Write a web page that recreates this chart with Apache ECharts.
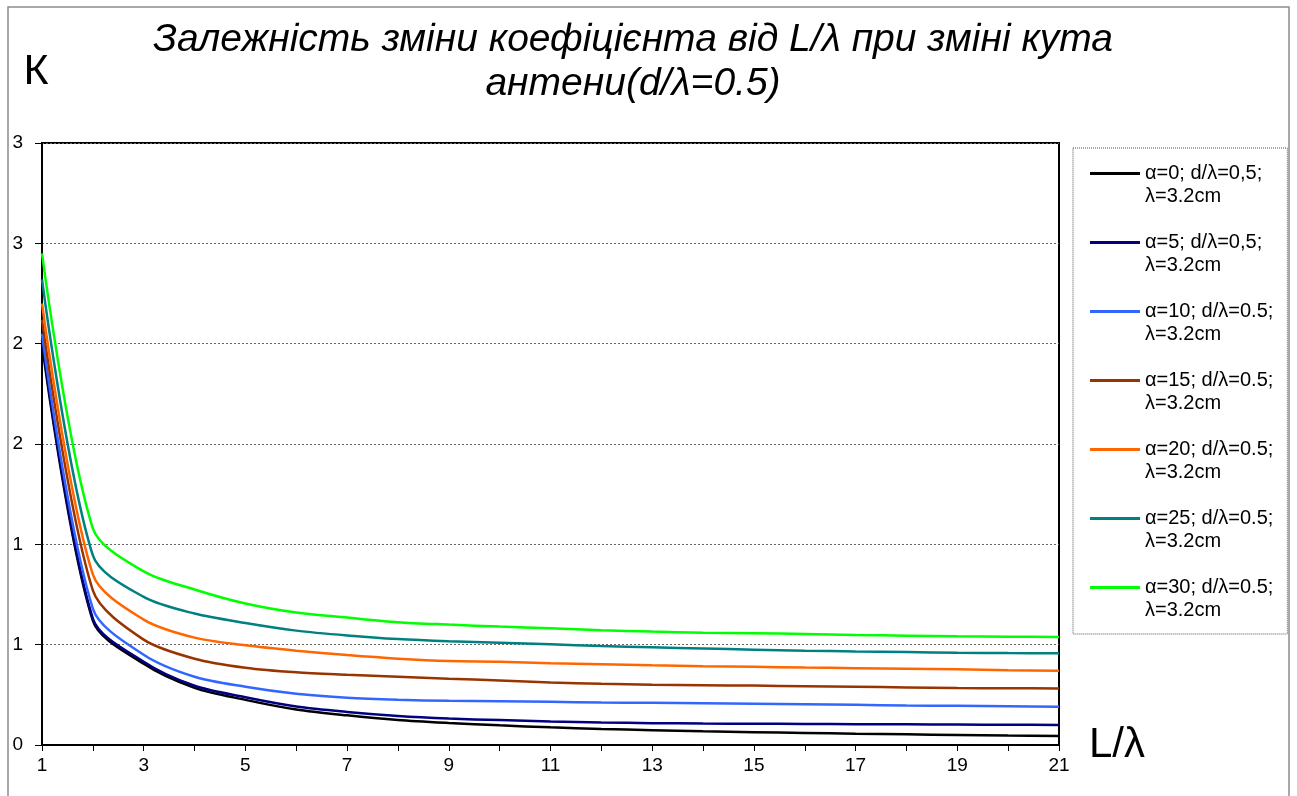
<!DOCTYPE html>
<html>
<head>
<meta charset="utf-8">
<script src="https://cdn.jsdelivr.net/npm/echarts@6/dist/echarts.min.js"></script>
<style>
html,body{margin:0;padding:0;background:#fff;}
#c{width:1297px;height:796px;}
</style>
</head>
<body>
<div id="c"></div>
<script>
const categories = ['1','2','3','4','5','6','7','8','9','10','11','12','13','14','15','16','17','18','19','20','21'];
const yTicks = [0, 0.5, 1, 1.5, 2, 2.5, 3];

const names = [
  'α=0; d/λ=0,5; λ=3.2cm',
  'α=5; d/λ=0,5; λ=3.2cm',
  'α=10; d/λ=0.5; λ=3.2cm',
  'α=15; d/λ=0.5; λ=3.2cm',
  'α=20; d/λ=0.5; λ=3.2cm',
  'α=25; d/λ=0.5; λ=3.2cm',
  'α=30; d/λ=0.5; λ=3.2cm'
];
const colors = ['#000000', '#000080', '#3366FF', '#993300', '#FF6600', '#008080', '#00FF00'];

const a0  = [2.00, 0.62, 0.405, 0.285, 0.225, 0.177, 0.148, 0.125, 0.110, 0.098, 0.088, 0.080, 0.074, 0.068, 0.064, 0.060, 0.056, 0.053, 0.050, 0.047, 0.045];
const a5  = [2.02, 0.63, 0.415, 0.295, 0.238, 0.192, 0.165, 0.145, 0.132, 0.124, 0.117, 0.112, 0.109, 0.107, 0.106, 0.105, 0.104, 0.103, 0.102, 0.101, 0.100];
const a10 = [2.05, 0.68, 0.450, 0.340, 0.290, 0.255, 0.235, 0.225, 0.220, 0.218, 0.215, 0.212, 0.210, 0.208, 0.206, 0.203, 0.200, 0.197, 0.195, 0.193, 0.191];
const a15 = [2.12, 0.77, 0.525, 0.430, 0.385, 0.362, 0.350, 0.340, 0.330, 0.322, 0.312, 0.305, 0.300, 0.298, 0.296, 0.293, 0.290, 0.287, 0.284, 0.283, 0.282];
const a20 = [2.20, 0.85, 0.625, 0.535, 0.497, 0.470, 0.448, 0.430, 0.418, 0.415, 0.408, 0.402, 0.397, 0.393, 0.390, 0.386, 0.383, 0.380, 0.377, 0.373, 0.370];
const a25 = [2.32, 0.945, 0.738, 0.655, 0.608, 0.570, 0.546, 0.528, 0.517, 0.510, 0.502, 0.493, 0.487, 0.481, 0.475, 0.470, 0.466, 0.463, 0.460, 0.458, 0.457];
const a30 = [2.45, 1.08, 0.865, 0.775, 0.705, 0.660, 0.635, 0.612, 0.600, 0.590, 0.582, 0.572, 0.565, 0.560, 0.557, 0.553, 0.548, 0.545, 0.542, 0.540, 0.538];

const seriesData = [a0, a5, a10, a15, a20, a25, a30];
const FONT = '"Liberation Sans", Arial, sans-serif';

const chart = echarts.init(document.getElementById('c'));
chart.setOption({
  animation: false,
  backgroundColor: '#fff',
  textStyle: { fontFamily: FONT },
  title: {
    text: 'Залежність зміни коефіцієнта від L/λ при зміні кута\nантени(d/λ=0.5)',
    left: 633,
    textAlign: 'center',
    top: 18,
    padding: 0,
    textStyle: { fontFamily: FONT, fontStyle: 'italic', fontWeight: 'normal', fontSize: 39, lineHeight: 44, color: '#000' }
  },
  graphic: [{
    type: 'rect', silent: true, z: -10,
    shape: { x: 8, y: 7, width: 1281, height: 800 },
    style: { fill: 'none', stroke: '#8c8c8c', lineWidth: 1.5 }
  }],
  grid: { left: 42, top: 143, right: 238, bottom: 51, show: true, borderColor: '#000', borderWidth: 2, backgroundColor: 'transparent' },
  legend: {
    orient: 'vertical',
    left: 1073,
    top: 148,
    padding: [14, 14, 12, 17],
    itemWidth: 50,
    itemHeight: 46,
    itemGap: 23,
    borderColor: '#555',
    borderWidth: 1,
    borderType: 'dotted',
    icon: 'path://M0,0h0.01v0.01h-0.01z M0,10h50v3h-50z M0,46h0.01v0.01h-0.01z',
    formatter: function (n) { return n.replace('; λ', ';\nλ'); },
    textStyle: { fontFamily: FONT, fontSize: 20, lineHeight: 23, color: '#000' },
    data: names
  },
  xAxis: {
    type: 'category',
    data: categories,
    boundaryGap: false,
    name: 'L/λ',
    nameLocation: 'end',
    nameGap: 30,
    nameTextStyle: { fontFamily: FONT, fontSize: 42, color: '#000', verticalAlign: 'middle', padding: [0, 0, 10, 0] },
    axisLine: { lineStyle: { color: '#000', width: 2 } },
    axisTick: { show: true, interval: 0, length: 6, lineStyle: { color: '#000', width: 1 } },
    axisLabel: { interval: 1, fontFamily: FONT, fontSize: 19, color: '#000', margin: 11 },
    splitLine: { show: false }
  },
  yAxis: {
    type: 'value',
    min: 0,
    max: 3,
    interval: 0.5,
    name: 'К',
    nameLocation: 'end',
    nameGap: 49,
    nameTextStyle: { fontFamily: FONT, fontSize: 43, color: '#000', align: 'center', padding: [0, 12, 0, 0] },
    axisLine: { show: true, lineStyle: { color: '#000', width: 2 } },
    axisTick: { show: true, length: 7, lineStyle: { color: '#000', width: 1 } },
    axisLabel: { fontFamily: FONT, fontSize: 19, color: '#000', margin: 19, formatter: function (v) { return String(Math.round(v)); } },
    splitLine: { show: true, lineStyle: { color: '#666', width: 1, type: [2, 2] } }
  },
  series: seriesData.map(function (d, i) {
    return {
      name: names[i],
      type: 'line',
      data: d,
      smooth: 0.3,
      symbol: 'none',
      itemStyle: { color: colors[i] },
      lineStyle: { color: colors[i], width: 2.5 }
    };
  })
});
</script>
</body>
</html>
